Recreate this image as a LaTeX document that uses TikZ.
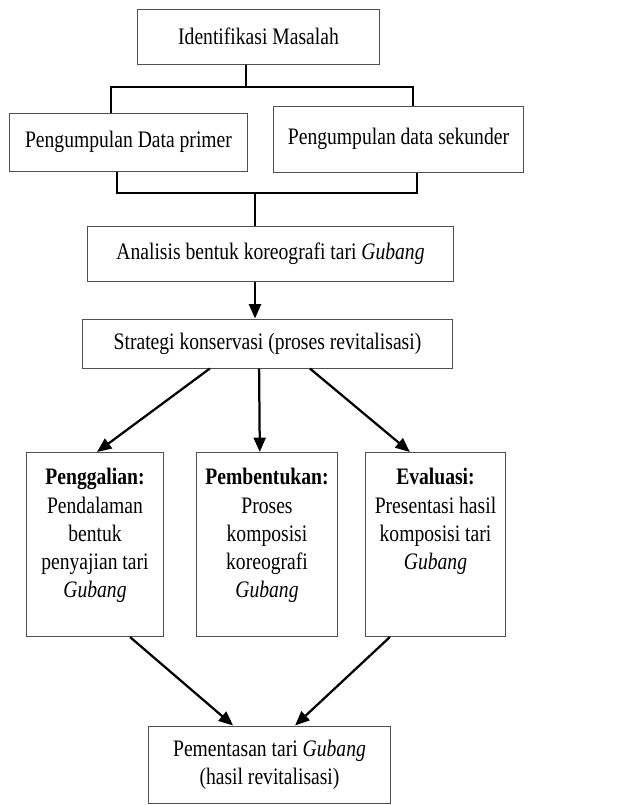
\documentclass[tikz,border=0pt]{standalone}
\usepackage{fontspec}
\setmainfont[FakeStretch=0.83]{Liberation Serif}
\usepackage{tikz}
\usetikzlibrary{positioning,arrows.meta,calc}
\definecolor{boxgray}{HTML}{505050}
\tikzset{
box/.style={
draw=boxgray,
line width=0.7pt,
align=center,
inner sep=2pt,
font=\fontsize{16.8}{20}\selectfont
},
stagebox/.style={
draw=boxgray,
line width=0.7pt,
inner sep=0pt,
anchor=north,
font=\fontsize{16.8}{20}\selectfont
},
line/.style={
line width=1.1pt
},
arrow/.style={
-{Triangle[length=3.6mm,width=3mm]},
line width=1.6pt
}
}
\newcommand{\stagetext}[2]{\parbox[t][4.6cm][t]{#1}{\centering\vspace{0.4cm}#2}}

\begin{document}
\begin{tikzpicture}[x=0.025cm,y=-0.025cm]
\useasboundingbox (0,0) rectangle (638,805);

\node[box,minimum width=6.025cm,minimum height=1.375cm](ident) at (258.5,36.5){Identifikasi Masalah};
\node[box,minimum width=5.925cm,minimum height=1.45cm](primer) at (128.5,142){Pengumpulan Data primer};
\node[box,minimum width=6.225cm,minimum height=1.65cm](sekunder) at (398.5,139){Pengumpulan data sekunder};
\node[box,minimum width=9.125cm,minimum height=1.375cm](analisis) at (270.5,253.5){Analisis bentuk koreografi tari \textit{Gubang}};
\node[box,minimum width=9.225cm,minimum height=1.225cm](strategi) at (267.5,343.5){Strategi konservasi (proses revitalisasi)};

\node[stagebox](gali) at (95,452){\stagetext{3.4cm}{\textbf{Penggalian:}\\Pendalaman\\bentuk\\penyajian tari\\\textit{Gubang}}};
\node[stagebox](bentuk) at (267,452){\stagetext{3.5cm}{\textbf{Pembentukan:}\\Proses\\komposisi\\koreografi\\\textit{Gubang}}};
\node[stagebox](evaluasi) at (435.5,452){\stagetext{3.475cm}{\textbf{Evaluasi:}\\Presentasi hasil\\komposisi tari\\\textit{Gubang}}};

\node[box,minimum width=6.025cm,minimum height=1.925cm](pentas) at (269.5,764.5){Pementasan tari \textit{Gubang}\\(hasil revitalisasi)};

% brackets
\coordinate (split) at (246,87);
\coordinate (merge) at (255,193);
\draw[line](ident.south -| split)--(split);
\draw[line](split)-|([xshift=-0.44cm]primer.north);
\draw[line](split)-|([xshift=0.36cm]sekunder.north);
\draw[line]([xshift=-0.29cm]primer.south)|-(merge);
\draw[line]([xshift=0.46cm]sekunder.south)|-(merge);
\draw[line](merge)--(analisis.north -| merge);

% arrows
\draw[arrow](analisis.south -| merge)--(strategi.north -| merge);
\draw[arrow]([xshift=-1.44cm]strategi.south)--([xshift=0.05cm]gali.north);
\draw[arrow]([xshift=-0.21cm]strategi.south)--([xshift=-0.18cm]bentuk.north);
\draw[arrow]([xshift=1.06cm]strategi.south)--([xshift=-0.64cm]evaluasi.north);
\draw[arrow]([xshift=0.875cm]gali.south)--([xshift=-0.91cm]pentas.north);
\draw[arrow]([xshift=-1.14cm]evaluasi.south)--([xshift=0.64cm]pentas.north);
\end{tikzpicture}
\end{document}
